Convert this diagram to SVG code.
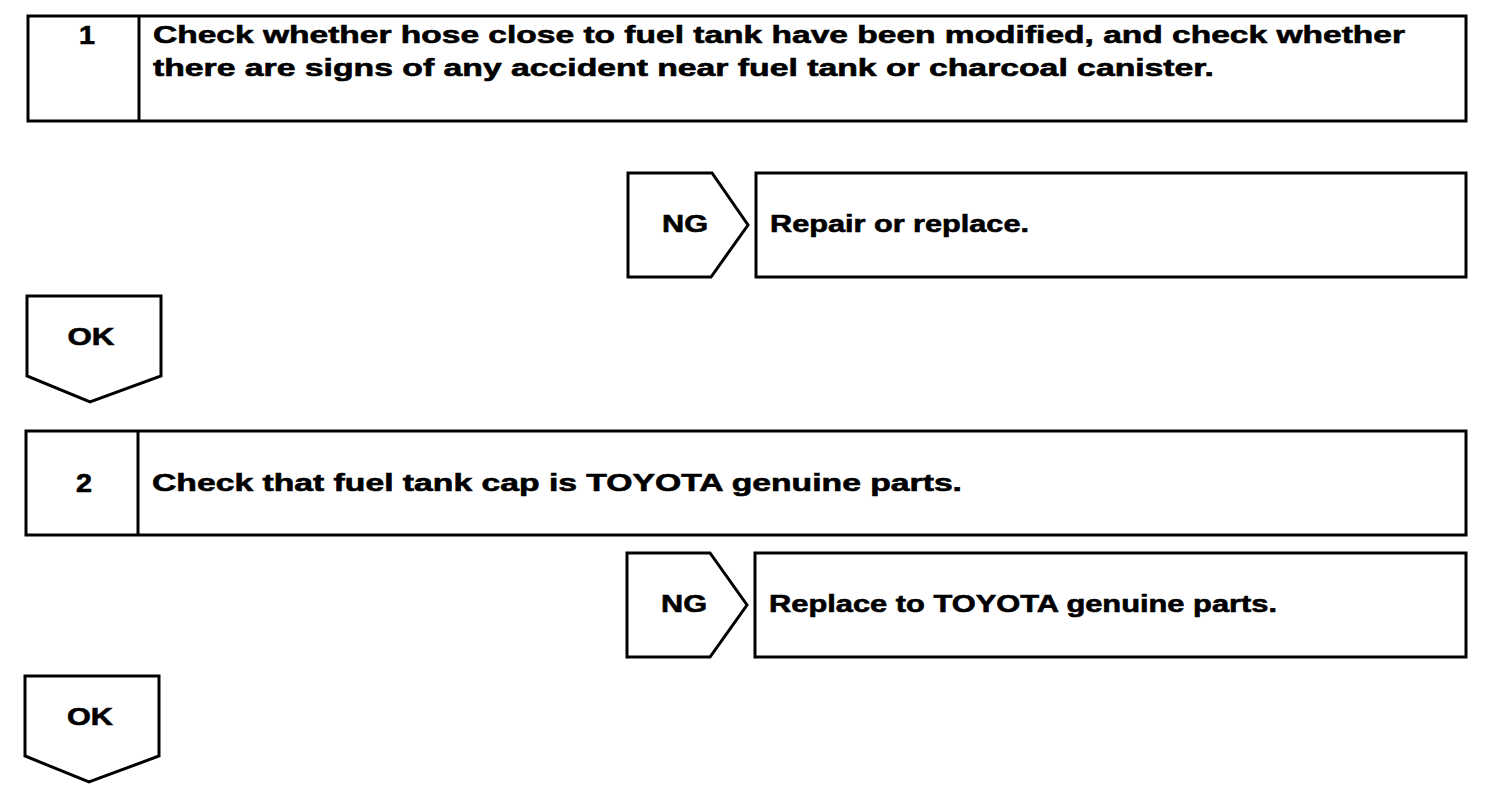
<svg xmlns="http://www.w3.org/2000/svg" width="1504" height="796" viewBox="0 0 1504 796">
<style>
.shape{fill:#fff;stroke:#000;stroke-width:3;stroke-linejoin:miter}
.t{font-family:"Liberation Sans",Arial,sans-serif;font-weight:bold;font-size:23.5px;fill:#000;stroke:#000;stroke-width:0.6}
.c{text-anchor:middle}
.n{font-size:25px}
</style>
<rect width="1504" height="796" fill="#fff"/>
<g id="step1">
<rect class="shape" x="28" y="16" width="1438" height="105"/>
<line class="shape" x1="139" y1="16" x2="139" y2="121"/>
<text class="t c n" transform="translate(87 44) scale(1.15 1)">1</text>
<text class="t" x="153" y="43" textLength="1252" lengthAdjust="spacingAndGlyphs">Check whether hose close to fuel tank have been modified, and check whether</text>
<text class="t" x="153" y="76" textLength="1061" lengthAdjust="spacingAndGlyphs">there are signs of any accident near fuel tank or charcoal canister.</text>
</g>
<g id="ng1">
<polygon class="shape" points="628,173 712,173 748,225 711,277 628,277"/>
<text class="t c" x="685" y="232" textLength="46" lengthAdjust="spacingAndGlyphs">NG</text>
</g>
<g id="fix1">
<rect class="shape" x="756" y="173" width="710" height="104"/>
<text class="t" x="770" y="232" textLength="259" lengthAdjust="spacingAndGlyphs">Repair or replace.</text>
</g>
<g id="ok1">
<polygon class="shape" points="27,296 161,296 161,376 90,402 27,376"/>
<text class="t c" x="91" y="345" textLength="47" lengthAdjust="spacingAndGlyphs">OK</text>
</g>
<g id="step2">
<rect class="shape" x="26" y="431" width="1440" height="104"/>
<line class="shape" x1="138" y1="431" x2="138" y2="535"/>
<text class="t c n" transform="translate(84 492) scale(1.15 1)">2</text>
<text class="t" x="152" y="491" textLength="810" lengthAdjust="spacingAndGlyphs">Check that fuel tank cap is TOYOTA genuine parts.</text>
</g>
<g id="ng2">
<polygon class="shape" points="627,553 710,553 747,605 710,657 627,657"/>
<text class="t c" x="684" y="612" textLength="46" lengthAdjust="spacingAndGlyphs">NG</text>
</g>
<g id="fix2">
<rect class="shape" x="755" y="553" width="711" height="104"/>
<text class="t" x="769" y="612" textLength="508" lengthAdjust="spacingAndGlyphs">Replace to TOYOTA genuine parts.</text>
</g>
<g id="ok2">
<polygon class="shape" points="25,676 159,676 159,756 89,782 25,756"/>
<text class="t c" x="90" y="725" textLength="46" lengthAdjust="spacingAndGlyphs">OK</text>
</g>
<g id="connectors"></g>
</svg>
